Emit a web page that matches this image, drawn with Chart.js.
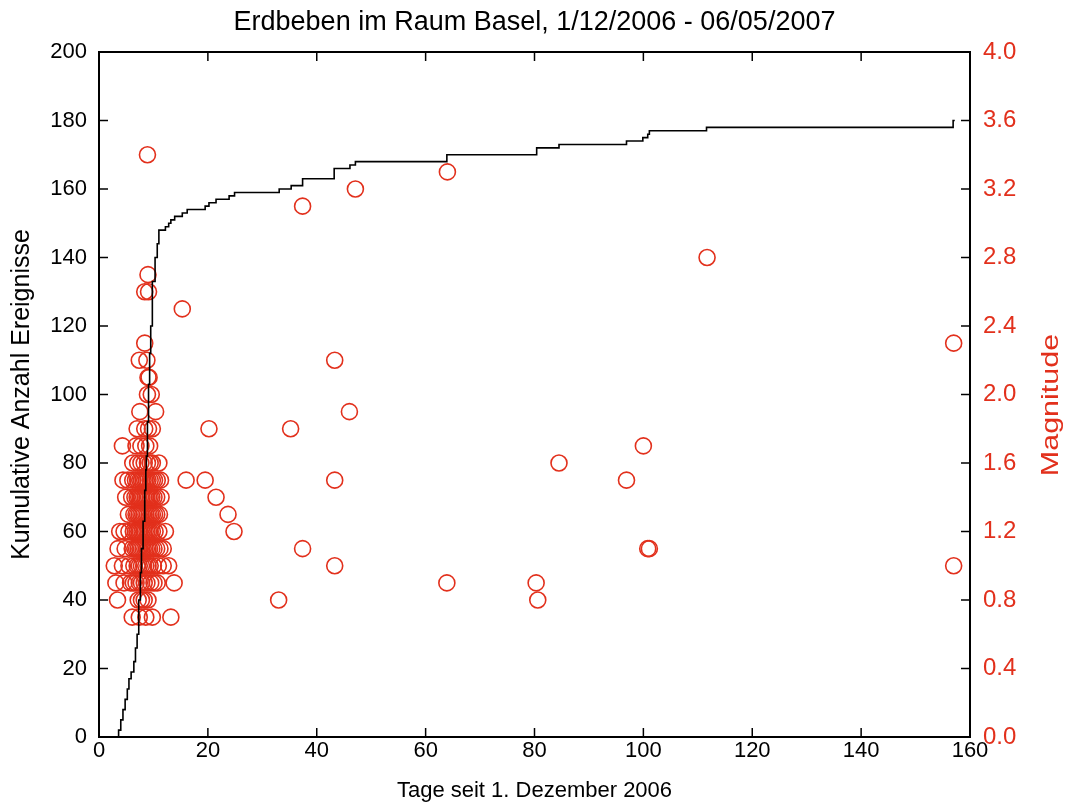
<!DOCTYPE html>
<html>
<head>
<meta charset="utf-8">
<script src="https://cdn.jsdelivr.net/npm/chart.js@4.4.1/dist/chart.umd.min.js"></script>
<style>
  html, body { margin: 0; padding: 0; background: #fff; }
  #wrap { width: 1069px; height: 805px; }
</style>
</head>
<body>
<div id="wrap"><canvas id="grafik" width="1069" height="805"></canvas></div>
<script>
// --- DATEN ---
const titel = 'Erdbeben im Raum Basel, 1/12/2006 - 06/05/2007';
const xTicks = [0, 20, 40, 60, 80, 100, 120, 140, 160];

// Kumulative Anzahl (Tage, Anzahl)
const kumTage = [3.4, 3.6, 4.0, 4.4, 4.8, 5.2, 5.5, 5.9, 6.4, 6.7, 7.0, 7.3, 7.6, 7.8, 8.1, 8.4, 8.6, 8.7, 8.9, 9.1, 9.3, 9.5,
  9.8, 10.3, 10.7, 11.0, 12.2, 12.8, 13.2, 13.9, 15.3, 16.2, 19.5, 20.2, 21.5, 23.9, 24.9, 33.1, 35.3, 37.4, 43.2,
  46.1, 47.1, 63.9, 80.4, 84.5, 96.9, 99.9, 100.8, 101.1, 111.6, 156.9, 157.2];
const kumAnzahl = [0, 2, 5, 8, 11, 14, 17, 19, 22, 26, 30, 40, 48, 55, 63, 72, 78, 82, 92, 103, 112, 120,
  133, 140, 144, 148, 149, 150, 151, 152, 153, 154, 155, 156, 157, 158, 159, 160, 161, 163, 166,
  167, 168, 170, 172, 173, 174, 175, 176, 177, 178, 180, 180];

// Einzelne Beben (Tage, Magnitude)
const bebenTage = [
  8.9, 9.0, 8.4, 9.1, 8.4, 7.4, 8.8, 9.0, 9.2, 8.9, 9.6, 7.5, 10.4,
  7.0, 8.4, 9.1, 9.8,
  4.3, 6.8, 7.7, 8.6, 9.3,
  6.2, 7.1, 7.7, 8.3, 8.9, 9.4, 9.8, 11.0,
  4.4, 5.3, 6.2, 6.7, 7.1, 7.5, 7.8, 8.1, 8.4, 8.7, 9.0, 9.4, 9.8, 10.2, 10.7, 11.3,
  4.9, 6.0, 6.6, 7.0, 7.3, 7.6, 7.9, 8.2, 8.5, 8.8, 9.1, 9.4, 9.7, 10.1, 10.6, 11.4,
  5.4, 6.4, 6.8, 7.1, 7.4, 7.7, 8.0, 8.3, 8.6, 8.9, 9.2, 9.5, 9.8, 10.2, 10.6, 11.1,
  3.8, 4.6, 5.5, 6.3, 6.7, 7.0, 7.3, 7.6, 7.9, 8.2, 8.5, 8.8, 9.1, 9.4, 9.8, 10.3, 11.0, 12.2,
  3.5, 4.8, 6.1, 6.6, 6.9, 7.2, 7.5, 7.8, 8.1, 8.4, 8.7, 9.0, 9.3, 9.7, 10.1, 10.6, 11.2, 11.8,
  2.8, 4.3, 5.5, 6.4, 7.0, 7.4, 7.8, 8.2, 8.6, 9.0, 9.4, 10.0, 10.9, 11.8, 12.8,
  3.1, 4.6, 5.8, 6.3, 6.8, 7.4, 7.8, 8.3, 8.8, 9.5, 10.1, 10.7, 13.8,
  3.4, 7.2, 7.8, 8.3, 9.0,
  6.1, 7.4, 8.6, 9.8, 13.2,
  15.3, 16.0, 19.5, 20.2, 21.5, 23.7, 24.8, 33.0, 35.2, 37.4, 37.4, 43.3, 43.3, 43.3, 46.0, 47.1,
  64.0, 63.9, 80.3, 80.6, 84.5, 96.9, 100.0, 100.8, 101.1, 111.7, 157.0, 157.0
];
const bebenMag = [
  3.4, 2.7, 2.6, 2.6, 2.3, 2.2, 2.2, 2.1, 2.1, 2.0, 2.0, 1.9, 1.9,
  1.8, 1.8, 1.8, 1.8,
  1.7, 1.7, 1.7, 1.7, 1.7,
  1.6, 1.6, 1.6, 1.6, 1.6, 1.6, 1.6, 1.6,
  1.5, 1.5, 1.5, 1.5, 1.5, 1.5, 1.5, 1.5, 1.5, 1.5, 1.5, 1.5, 1.5, 1.5, 1.5, 1.5,
  1.4, 1.4, 1.4, 1.4, 1.4, 1.4, 1.4, 1.4, 1.4, 1.4, 1.4, 1.4, 1.4, 1.4, 1.4, 1.4,
  1.3, 1.3, 1.3, 1.3, 1.3, 1.3, 1.3, 1.3, 1.3, 1.3, 1.3, 1.3, 1.3, 1.3, 1.3, 1.3,
  1.2, 1.2, 1.2, 1.2, 1.2, 1.2, 1.2, 1.2, 1.2, 1.2, 1.2, 1.2, 1.2, 1.2, 1.2, 1.2, 1.2, 1.2,
  1.1, 1.1, 1.1, 1.1, 1.1, 1.1, 1.1, 1.1, 1.1, 1.1, 1.1, 1.1, 1.1, 1.1, 1.1, 1.1, 1.1, 1.1,
  1.0, 1.0, 1.0, 1.0, 1.0, 1.0, 1.0, 1.0, 1.0, 1.0, 1.0, 1.0, 1.0, 1.0, 1.0,
  0.9, 0.9, 0.9, 0.9, 0.9, 0.9, 0.9, 0.9, 0.9, 0.9, 0.9, 0.9, 0.9,
  0.8, 0.8, 0.8, 0.8, 0.8,
  0.7, 0.7, 0.7, 0.7, 0.7,
  2.5, 1.5, 1.5, 1.8, 1.4, 1.3, 1.2, 0.8, 1.8, 3.1, 1.1, 2.2, 1.5, 1.0, 1.9, 3.2,
  3.3, 0.9, 0.9, 0.8, 1.6, 1.5, 1.7, 1.1, 1.1, 2.8, 2.3, 1.0
];

const ROT = '#E2301C';
const SCHRIFT = '"Liberation Sans", Arial, sans-serif';

// --- RAHMEN, INNENTICKS, TITEL ---
const rahmenPlugin = {
  id: 'rahmen',
  afterDraw(chart) {
    const { ctx, chartArea: a, scales } = chart;
    const strich = (x1, y1, x2, y2) => { ctx.beginPath(); ctx.moveTo(x1, y1); ctx.lineTo(x2, y2); ctx.stroke(); };
    ctx.save();
    ctx.strokeStyle = '#000'; ctx.lineWidth = 2;
    ctx.strokeRect(a.left, a.top, a.right - a.left, a.bottom - a.top);
    ctx.lineWidth = 1.5;
    scales.x.ticks.forEach(t => { const p = scales.x.getPixelForValue(t.value); strich(p, a.bottom, p, a.bottom - 9); strich(p, a.top, p, a.top + 9); });
    scales.y.ticks.forEach(t => { const p = scales.y.getPixelForValue(t.value); strich(a.left, p, a.left + 9, p); });
    scales.y2.ticks.forEach(t => { const p = scales.y2.getPixelForValue(t.value); strich(a.right, p, a.right - 9, p); });

    ctx.fillStyle = '#000'; ctx.textAlign = 'center'; ctx.textBaseline = 'middle';
    ctx.font = '27px ' + SCHRIFT;
    ctx.fillText(titel, (a.left + a.right) / 2, 23);

    // rechte Achsenbeschriftung, von unten nach oben, leicht gestreckt
    ctx.translate(1051, 405); ctx.rotate(-Math.PI / 2); ctx.scale(1.27, 1);
    ctx.fillStyle = ROT; ctx.font = '24px ' + SCHRIFT;
    ctx.fillText('Magnitude', 0, 0);
    ctx.restore();
  }
};

const kurve = kumTage.map((t, i) => ({ x: t, y: kumAnzahl[i] }));
const beben = bebenTage.map((t, i) => ({ x: t, y: bebenMag[i] }));

new Chart(document.getElementById('grafik'), {
  type: 'scatter',
  data: {
    datasets: [
      { type: 'line', label: 'Kumulativ', data: kurve, yAxisID: 'y', stepped: true, borderColor: '#000', borderWidth: 1.6,
        pointRadius: 0, fill: false, order: 0 },
      { label: 'Magnitude', data: beben, yAxisID: 'y2', pointRadius: 8, pointStyle: 'circle', borderColor: ROT,
        backgroundColor: 'rgba(0,0,0,0)', borderWidth: 1.6, order: 1 }
    ]
  },
  options: {
    responsive: false, animation: false, devicePixelRatio: 1,
    layout: { padding: { top: 52, left: 0, right: 0, bottom: 0 } },
    plugins: { legend: { display: false }, tooltip: { enabled: false }, title: { display: false } },
    scales: {
      x: {
        type: 'linear', min: 0, max: 160,
        afterBuildTicks: s => { s.ticks = xTicks.map(v => ({ value: v })); },
        afterFit: s => { s.height = 68; },
        grid: { display: false, drawTicks: false }, border: { display: false },
        ticks: { color: '#000', font: { family: SCHRIFT, size: 22 }, padding: 1, maxRotation: 0 },
        title: { display: true, text: 'Tage seit 1. Dezember 2006', color: '#000', font: { family: SCHRIFT, size: 22 }, padding: { top: 0, bottom: 1 } }
      },
      y: {
        position: 'left', min: 0, max: 200,
        afterFit: s => { s.width = 99; },
        grid: { display: false, drawTicks: false }, border: { display: false },
        ticks: { stepSize: 20, color: '#000', font: { family: SCHRIFT, size: 22 }, padding: 12 },
        title: { display: true, text: 'Kumulative Anzahl Ereignisse', color: '#000', font: { family: SCHRIFT, size: 25 }, padding: { top: 7, bottom: 0 } }
      },
      y2: {
        position: 'right', min: 0, max: 4,
        afterFit: s => { s.width = 99; },
        grid: { display: false, drawTicks: false }, border: { display: false },
        ticks: { stepSize: 0.4, color: ROT, font: { family: SCHRIFT, size: 24 }, padding: 13, callback: v => Number(v).toFixed(1) }
      }
    }
  },
  plugins: [rahmenPlugin]
});
</script>
</body>
</html>
